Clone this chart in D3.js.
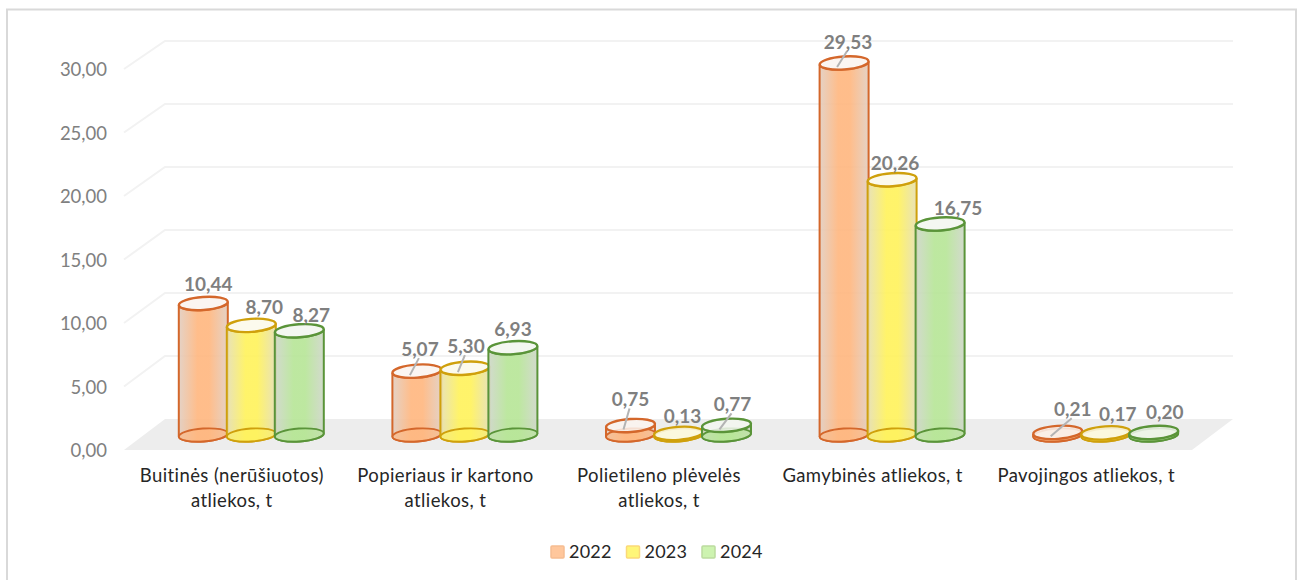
<!DOCTYPE html>
<html lang="lt">
<head>
<meta charset="UTF-8"/>
<title>Atliekos</title>
<script src="https://d3js.org/d3.v7.min.js"></script>
<style>
  html, body { margin: 0; padding: 0; background: #fff; overflow: hidden; }
  svg { display: block; font-family: Lato, "Open Sans", sans-serif; }
</style>
</head>
<body>
<script>
var w = 1297;
var h = 580;

var categories = [
  ["Buitinės (nerūšiuotos)", "atliekos, t"],
  ["Popieriaus ir kartono", "atliekos, t"],
  ["Polietileno plėvelės", "atliekos, t"],
  ["Gamybinės atliekos, t"],
  ["Pavojingos atliekos, t"]
];
var years = ["2022", "2023", "2024"];
var values2022 = [10.44, 5.07, 0.75, 29.53, 0.21];
var values2023 = [8.70, 5.30, 0.13, 20.26, 0.17];
var values2024 = [8.27, 6.93, 0.77, 16.75, 0.20];
var yTicks = [0, 5, 10, 15, 20, 25, 30];

var colors = {
  "2022": { mid: "#ffb67e", edge: "#e2cdbf", line: "#d4672b", top: "#faf3ee", swatch: "#ffc79c", swatchLine: "#f6bd91" },
  "2023": { mid: "#fff25a", edge: "#e6dfb0", line: "#cfa00c", top: "#fbf9ea", swatch: "#fff678", swatchLine: "#fbd978" },
  "2024": { mid: "#b6e596", edge: "#ced6c8", line: "#5a9439", top: "#f2f6ee", swatch: "#cdf3b0", swatchLine: "#bcdc9f" }
};

// label position relative to the top of each cylinder [dx, dy], and whether it has a leader line
var labelShift = [
  [[5, -19], [13, -18], [12, -15]],
  [[3, -22], [1, -22], [0, -18]],
  [[0, -26], [4, -17], [6, -21]],
  [[4, -21], [3, -16], [18, -16]],
  [[15, -23], [12, -19], [11, -20]]
];
var hasLeader = [
  [false, false, false],
  [true, true, false],
  [true, false, true],
  [true, false, false],
  [true, false, false]
];

var depthX = 41;

var xFront = d3.scaleBand().domain(d3.range(categories.length)).range([124, 1192]);
var xBar = d3.scaleBand().domain(years).range([-72, 72]);
var yFront = d3.scaleLinear().domain([0, 30]).range([450, 69]);
var yBack = d3.scaleLinear().domain([0, 30]).range([419, 41]);
var yBar = d3.scaleLinear().domain([0, 30]).range([435, 57]);

var fmtLocale = d3.formatLocale({ decimal: ",", thousands: " ", grouping: [3], currency: ["", ""] });
var fmt = fmtLocale.format(".2f");

var series = years.map(function(y, i) {
  return { year: y, values: [values2022, values2023, values2024][i] };
});

var svg = d3.select("body").append("svg").attr("width", w).attr("height", h);

// cylinder side shading
var defs = svg.append("defs");
years.forEach(function(y) {
  var g = defs.append("linearGradient").attr("id", "body" + y);
  g.append("stop").attr("offset", "0%").attr("stop-color", colors[y].edge);
  g.append("stop").attr("offset", "38%").attr("stop-color", colors[y].mid);
  g.append("stop").attr("offset", "62%").attr("stop-color", colors[y].mid);
  g.append("stop").attr("offset", "100%").attr("stop-color", colors[y].edge);
});

// outer frame
svg.append("path")
  .attr("d", "M7,580V9.5H1296V580")
  .attr("fill", "none")
  .attr("stroke", "#d9d9d9")
  .attr("stroke-width", 2);

// floor
var floorX0 = xFront.range()[0], floorX1 = xFront.range()[1];
svg.append("path")
  .attr("d", "M" + floorX0 + "," + yFront(0) + "L" + (floorX0 + depthX) + "," + yBack(0) +
             "H" + (floorX1 + depthX) + "L" + floorX1 + "," + yFront(0) + "Z")
  .attr("fill", "#ededed");

// gridlines on side and back wall
svg.selectAll(".grid")
  .data(yTicks.slice(1))
  .enter()
  .append("path")
  .attr("class", "grid")
  .attr("d", function(d) {
    return "M" + floorX0 + "," + yFront(d) + "L" + (floorX0 + depthX) + "," + yBack(d) + "H" + (floorX1 + depthX);
  })
  .attr("fill", "none")
  .attr("stroke", "#f2f2f2")
  .attr("stroke-width", 2);

// y axis
var yAxis = d3.axisLeft(yFront).tickValues(yTicks).tickSize(0).tickPadding(0).tickFormat(fmt);
var yG = svg.append("g").attr("transform", "translate(107,1)").call(yAxis);
yG.select(".domain").remove();
yG.selectAll("text")
  .attr("font-family", "Lato, sans-serif")
  .attr("font-size", 18.5)
  .attr("fill", "#808080");

// cylinders
var rx = 24.5, ry = 6.5, tilt = -4;
function cx(i, year) {
  return xFront(i) + xFront.bandwidth() / 2 + 20.5 + xBar(year) + xBar.bandwidth() / 2;
}

var barG = svg.selectAll(".series")
  .data(series)
  .enter()
  .append("g")
  .attr("class", "series");

var cyl = barG.selectAll(".cyl")
  .data(function(s) {
    return s.values.map(function(v, i) {
      return { year: s.year, value: v, index: i };
    });
  })
  .enter()
  .append("g")
  .attr("class", "cyl")
  .attr("transform", function(d) { return "translate(" + cx(d.index, d.year) + ",0)"; });

// the tilted ellipse ends sit a little lower on the left and higher on the right
var dy = rx * Math.sin(-tilt * Math.PI / 180);

cyl.append("path")
  .attr("class", "side")
  .attr("d", function(d) {
    var t = yBar(d.value), b = yBar(0);
    return "M" + (-rx) + "," + (t + dy) +
      "L" + (-rx) + "," + (b + dy) +
      "A" + rx + "," + ry + " " + tilt + " 0 0 " + rx + "," + (b - dy) +
      "L" + rx + "," + (t - dy) +
      "A" + rx + "," + ry + " " + tilt + " 0 1 " + (-rx) + "," + (t + dy) + "Z";
  })
  .attr("fill", function(d) { return "url(#body" + d.year + ")"; })
  .attr("fill-opacity", 0.9)
  .attr("stroke", function(d) { return colors[d.year].line; })
  .attr("stroke-width", 2);

// base stays visible through the translucent side
cyl.append("ellipse")
  .attr("class", "base")
  .attr("rx", rx).attr("ry", ry)
  .attr("cy", yBar(0))
  .attr("transform", "rotate(" + tilt + " 0 " + yBar(0) + ")")
  .attr("fill", function(d) { return colors[d.year].mid; })
  .attr("fill-opacity", 0.55)
  .attr("stroke", function(d) { return colors[d.year].line; })
  .attr("stroke-width", 1.8);

cyl.append("ellipse")
  .attr("class", "top")
  .attr("rx", rx).attr("ry", ry)
  .attr("cy", function(d) { return yBar(d.value); })
  .attr("transform", function(d) { return "rotate(" + tilt + " 0 " + yBar(d.value) + ")"; })
  .attr("fill", function(d) { return colors[d.year].top; })
  .attr("fill-opacity", 0.85)
  .attr("stroke", function(d) { return colors[d.year].line; })
  .attr("stroke-width", 2.4);

// leader lines
var yearIdx = function(y) { return years.indexOf(y); };
cyl.filter(function(d) { return hasLeader[d.index][yearIdx(d.year)]; })
  .append("line")
  .attr("x1", -7)
  .attr("y1", function(d) { return yBar(d.value) + 4; })
  .attr("x2", function(d) { return labelShift[d.index][yearIdx(d.year)][0] - 1; })
  .attr("y2", function(d) { return yBar(d.value) + labelShift[d.index][yearIdx(d.year)][1] + 9; })
  .attr("stroke", "#b3b3b3")
  .attr("stroke-width", 2);

// value labels
cyl.append("text")
  .attr("x", function(d) { return labelShift[d.index][yearIdx(d.year)][0]; })
  .attr("y", function(d) { return yBar(d.value) + labelShift[d.index][yearIdx(d.year)][1]; })
  .attr("dy", "0.35em")
  .attr("text-anchor", "middle")
  .attr("font-size", 19)
  .attr("font-weight", 700)
  .attr("fill", "#7f7f7f")
  .text(function(d) { return fmt(d.value); });

// category labels
var catText = svg.selectAll(".cat")
  .data(categories)
  .enter()
  .append("text")
  .attr("class", "cat")
  .attr("text-anchor", "middle")
  .attr("font-size", 18.5)
  .attr("letter-spacing", 0.4)
  .attr("fill", "#262626");

catText.selectAll("tspan")
  .data(function(d, i) { return d.map(function(t) { return { t: t, i: i }; }); })
  .enter()
  .append("tspan")
  .attr("x", function(d) { return xFront(d.i) + xFront.bandwidth() / 2 + 1; })
  .attr("y", function(d, j) { return 482 + j * 25; })
  .text(function(d) { return d.t; });

// legend
var legendX = d3.scalePoint().domain(years).range([551, 702]);
var leg = svg.selectAll(".leg")
  .data(years)
  .enter()
  .append("g")
  .attr("class", "leg")
  .attr("transform", function(d) { return "translate(" + legendX(d) + ",546)"; });

leg.append("rect")
  .attr("width", 13)
  .attr("height", 12)
  .attr("rx", 1)
  .attr("fill", function(d) { return colors[d].swatch; })
  .attr("stroke", function(d) { return colors[d].swatchLine; })
  .attr("stroke-width", 1.5);

leg.append("text")
  .attr("x", 18)
  .attr("y", 12)
  .attr("font-size", 18)
  .attr("letter-spacing", 0.2)
  .attr("fill", "#262626")
  .text(function(d) { return d; });
</script>
</body>
</html>
